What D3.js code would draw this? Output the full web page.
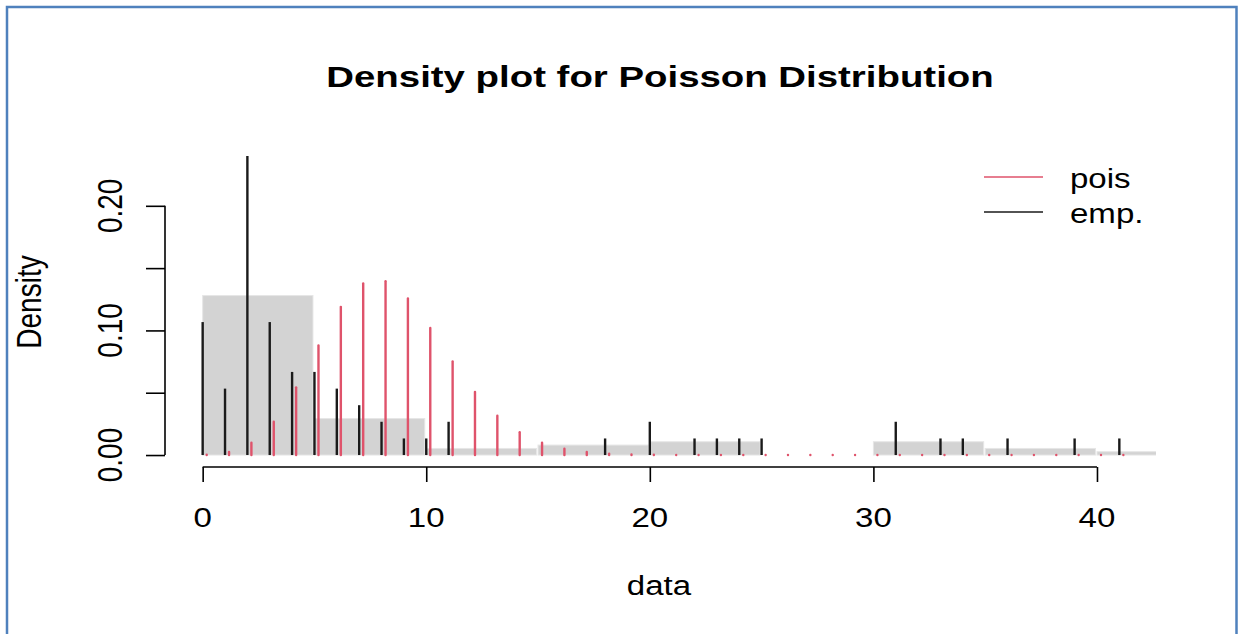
<!DOCTYPE html>
<html>
<head>
<meta charset="utf-8">
<script src="https://cdn.jsdelivr.net/npm/d3@7"></script>
<style>
  html, body { margin: 0; padding: 0; background: #ffffff; }
  svg { display: block; }
  text { font-family: "Liberation Sans", Arial, sans-serif; fill: #000; }
</style>
</head>
<body>
<svg id="chart" width="1241" height="634"></svg>
<script>
// ---- data ----
const empX = [0, 1, 2, 3, 4, 5, 6, 7, 8, 9, 10, 11, 18, 20, 22, 23, 24, 25, 31, 33, 34, 36, 39, 41];
const empDensity = [0.1067, 0.0533, 0.2400, 0.1067, 0.0667, 0.0667, 0.0533, 0.0400, 0.0267, 0.0133, 0.0133, 0.0267,
                    0.0133, 0.0267, 0.0133, 0.0133, 0.0133, 0.0133, 0.0267, 0.0133, 0.0133, 0.0133, 0.0133, 0.0133];

const poisX = [0, 1, 2, 3, 4, 5, 6, 7, 8, 9, 10, 11, 12, 13, 14, 15, 16, 17, 18, 19, 20,
               21, 22, 23, 24, 25, 26, 27, 28, 29, 30, 31, 32, 33, 34, 35, 36, 37, 38, 39, 40, 41];
const poisDensity = [0.0003, 0.0024, 0.0099, 0.0268, 0.0543, 0.0880, 0.1189, 0.1377, 0.1395, 0.1257, 0.1019,
                     0.0751, 0.0507, 0.0316, 0.0183, 0.0099, 0.0050, 0.0024, 0.0011, 0.0005, 0.0002,
                     0.0001, 0, 0, 0, 0, 0, 0, 0, 0, 0, 0, 0, 0, 0, 0, 0, 0, 0, 0, 0, 0];

const histBreaks = [0, 5, 10, 15, 20, 25, 30, 35, 40, 45];
const histDensity = [0.1280, 0.0293, 0.0053, 0.0080, 0.0107, 0, 0.0107, 0.0053, 0.0027];

const xTicks = [0, 10, 20, 30, 40];
const yTicks = [0.00, 0.05, 0.10, 0.15, 0.20];
const yTickLabels = ["0.00", "", "0.10", "", "0.20"];

const titleText = "Density plot for Poisson Distribution";
const xLabel = "data";
const yLabel = "Density";
const legendLabels = ["pois", "emp."];

// ---- layout ----
const W = 1241, H = 634;
const plot = { left: 166, right: 1156, top: 144, bottom: 467 };
const sx = 1.18;            // horizontal stretch of the original picture's text
const red = "#DF536B";

const svg = d3.select("#chart");

// blue frame
svg.append("rect")
  .attr("x", 7).attr("y", 7).attr("width", 1229.5).attr("height", 640)
  .attr("fill", "none").attr("stroke", "#4F81BD").attr("stroke-width", 2.5);

const x = d3.scaleLinear().domain([-1.64, 42.64]).range([plot.left, plot.right]);
const y = d3.scaleLinear().domain([-0.0096, 0.2496]).range([plot.bottom, plot.top]);

svg.append("defs").append("clipPath").attr("id", "clip")
  .append("rect")
  .attr("x", plot.left).attr("y", plot.top)
  .attr("width", plot.right - plot.left).attr("height", plot.bottom - plot.top);

const g = svg.append("g").attr("clip-path", "url(#clip)");

// histogram bars
const bins = histDensity.map((d, i) => ({ x0: histBreaks[i], x1: histBreaks[i + 1], d }));
g.selectAll("rect.bar").data(bins.filter(b => b.d > 0)).join("rect")
  .attr("class", "bar")
  .attr("x", b => x(b.x0))
  .attr("width", b => x(b.x1) - x(b.x0) - 1.5)
  .attr("y", b => y(b.d))
  .attr("height", b => y(0) - y(b.d))
  .attr("fill", "#d3d3d3")
  .attr("stroke", "#e6e6e6")
  .attr("stroke-width", 1);

// empirical lines (black)
g.selectAll("line.emp").data(empX.map((v, i) => ({ v, d: empDensity[i] }))).join("line")
  .attr("class", "emp")
  .attr("x1", p => x(p.v)).attr("x2", p => x(p.v))
  .attr("y1", y(0)).attr("y2", p => y(p.d))
  .attr("stroke", "#1a1a1a").attr("stroke-width", 2.4);

// poisson lines (red), slightly offset to the right
const poisOffset = 0.18;
g.selectAll("line.pois").data(poisX.map((v, i) => ({ v, d: poisDensity[i] }))).join("line")
  .attr("class", "pois")
  .attr("x1", p => x(p.v + poisOffset)).attr("x2", p => x(p.v + poisOffset))
  .attr("y1", y(0)).attr("y2", p => y(p.d))
  .attr("stroke", red).attr("stroke-width", 2.4)
  .attr("stroke-linecap", "round");

// helper for stretched text
function stext(px, py, str, opts = {}) {
  const grp = svg.append("g").attr("transform", `translate(${px},${py}) scale(${opts.sx || sx},1)`);
  const t = grp.append("text")
    .attr("text-anchor", opts.anchor || "middle")
    .attr("font-size", opts.size || 28)
    .attr("font-weight", opts.weight || "normal")
    .text(str);
  if (opts.rotate) t.attr("transform", "rotate(-90)");
  return t;
}

// x axis
const xAxisG = svg.append("g").attr("transform", `translate(0,${plot.bottom})`);
xAxisG.call(d3.axisBottom(x).tickValues(xTicks).tickSize(15).tickFormat(""));
xAxisG.select(".domain").attr("d", `M${x(xTicks[0])},0H${x(xTicks[xTicks.length - 1])}`)
  .attr("stroke", "#000").attr("stroke-width", 1.6);
xAxisG.selectAll(".tick line").attr("stroke", "#000").attr("stroke-width", 1.6);
xTicks.forEach(v => stext(x(v), 527, String(v)));

// y axis
const yAxisG = svg.append("g").attr("transform", `translate(${plot.left - 1},0)`);
yAxisG.call(d3.axisLeft(y).tickValues(yTicks).tickSize(19).tickFormat(""));
yAxisG.select(".domain").attr("d", `M0,${y(yTicks[0])}V${y(yTicks[yTicks.length - 1])}`)
  .attr("stroke", "#000").attr("stroke-width", 1.6);
yAxisG.selectAll(".tick line").attr("stroke", "#000").attr("stroke-width", 1.6);
yTicks.forEach((v, i) => { if (yTickLabels[i]) stext(122, y(v), yTickLabels[i], { rotate: true, sx: 1.28 }); });

// title and axis labels
stext(660, 87, titleText, { size: 30, weight: "bold", sx: 1.28 });
stext(659, 595, xLabel);
stext(41, 302, yLabel, { rotate: true, sx: 1.28 });

// legend
const legColors = [red, "#1a1a1a"];
const legY = [177, 212];
legendLabels.forEach((lab, i) => {
  svg.append("line")
    .attr("x1", 984).attr("x2", 1043).attr("y1", legY[i]).attr("y2", legY[i])
    .attr("stroke", legColors[i]).attr("stroke-width", 1.5);
  stext(1070, legY[i] + 10.5, lab, { anchor: "start" });
});
</script>
</body>
</html>
